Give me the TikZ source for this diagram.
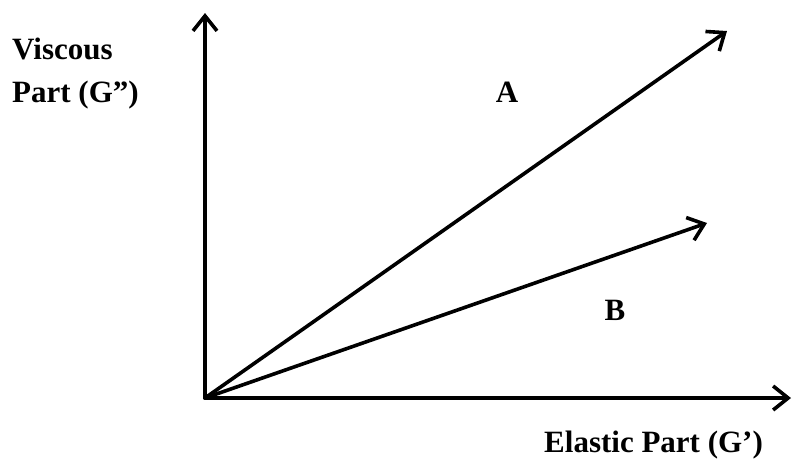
\documentclass[tikz,border=0pt]{standalone}
\usepackage{fontspec}
\setmainfont{Liberation Serif}
\usetikzlibrary{arrows.meta}
\begin{document}
\begin{tikzpicture}[x=1pt,y=-1pt,
  axisline/.style={line width=3.6pt,line cap=round,-{Straight Barb[length=15pt,width=24pt,line width=3.6pt]}},
  lbl/.style={font=\fontsize{31}{43}\selectfont\bfseries,inner sep=0pt}]
\useasboundingbox (0,0) rectangle (794,459);
\coordinate (O) at (205,398);
\coordinate (ytop) at (205,13);
\coordinate (xend) at (791,398);
\coordinate (atip) at (727,31);
\coordinate (btip) at (707,223);
\draw[axisline] (O) -- (ytop);
\draw[axisline] (O) -- (xend);
\draw[axisline] (O) -- (atip);
\draw[axisline] (O) -- (btip);
\node[lbl,anchor=base west,align=left] (visc) at (12,102) {Viscous\\Part (G”)};
\node[lbl] (A) at (507,92) {A};
\node[lbl] (B) at (615,310) {B};
\node[lbl,anchor=base west] (el) at (544,452) {Elastic Part (G’)};
\end{tikzpicture}
\end{document}
